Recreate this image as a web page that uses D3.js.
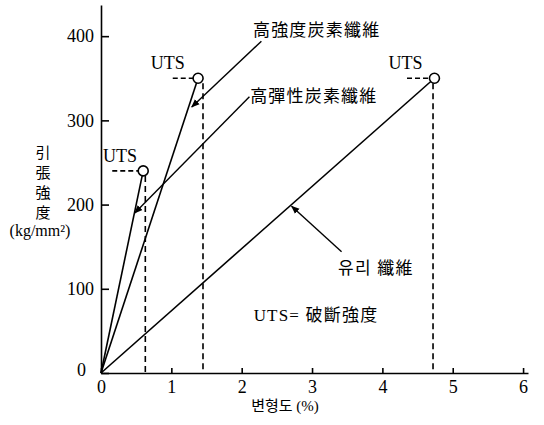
<!DOCTYPE html>
<html>
<head>
<meta charset="utf-8">
<script src="https://cdn.jsdelivr.net/npm/d3@7"></script>
<style>
  body { margin: 0; background: #fff; }
  .serif { font-family: "Liberation Serif", "DejaVu Serif", serif; }
  .mix { font-family: "Liberation Serif", "Noto Sans CJK KR", "Noto Sans CJK TC", serif; }
  .cjk { font-family: "Noto Sans CJK KR", "Noto Sans CJK TC", sans-serif; }
</style>
</head>
<body>
<div id="chart"><svg></svg></div>
<script>
// fibers: strain (%) at break and UTS (kg/mm2)
const fibers = ["高弾性", "高強度", "유리"];
const utsStrain = [0.6, 1.38, 4.74];
const utsStress = [240, 350, 350];
// dashed guides
const dropStrain = [0.63, 1.45, 4.72];
const dashFrom = [0.16, 1.02, 4.35];

const xTicks = [0, 1, 2, 3, 4, 5, 6];
const yTicks = [0, 100, 200, 300, 400];

// labels: [text, strain, stress]
const labelText = ["高強度炭素纖維", "高彈性炭素纖維", "유리 纖維", "UTS= 破斷強度"];
const labelX = [2.16, 2.12, 3.37, 2.17];
const labelY = [400, 322, 117, 62];
const utsLabelX = [0.27, 0.95, 4.33];
const utsLabelY = [250, 361, 361];

// leaders [strain, stress]
const leaderFrom = [[2.28, 394], [2.11, 328], [3.42, 144]];
const leaderTo = [[1.29, 316], [0.48, 190], [2.71, 198]];

const W = 544, H = 425;
const svg = d3.select("#chart svg").attr("width", W).attr("height", H);

const x = d3.scaleLinear().domain([0, 6.07]).range([101, 528]);
const y = d3.scaleLinear().domain([0, 437]).range([373, 5]);

svg.append("defs").append("marker")
  .attr("id", "arr").attr("viewBox", "0 0 10 10")
  .attr("refX", 9).attr("refY", 5)
  .attr("markerWidth", 6).attr("markerHeight", 6)
  .attr("orient", "auto")
  .append("path").attr("d", "M0,1 L10,5 L0,9 Z").attr("fill", "#000");

// axes
const xAxis = d3.axisBottom(x).tickValues(xTicks).tickFormat(d3.format("d"))
  .tickSizeInner(-5).tickSizeOuter(0).tickPadding(7);
const yAxis = d3.axisLeft(y).tickValues(yTicks).tickFormat(d3.format("d"))
  .tickSizeInner(-8).tickSizeOuter(0).tickPadding(7);

const gx = svg.append("g").attr("transform", `translate(0,${y(0)})`).call(xAxis);
const gy = svg.append("g").attr("transform", `translate(${x(0)},0)`).call(yAxis);
[gx, gy].forEach(g => {
  g.attr("font-family", null).attr("font-size", null);
  g.selectAll("path, line").attr("stroke", "#000").attr("stroke-width", 1.6);
  g.selectAll("text").attr("class", "serif").attr("font-size", 18).attr("fill", "#000");
});
gy.selectAll(".tick").filter(d => d === 0).select("text").attr("dx", -8).attr("dy", "0.15em");

// fiber lines
svg.selectAll(".fiber").data(fibers).join("line")
  .attr("class", "fiber")
  .attr("x1", x(0)).attr("y1", y(0))
  .attr("x2", (d, i) => x(utsStrain[i])).attr("y2", (d, i) => y(utsStress[i]))
  .attr("stroke", "#000").attr("stroke-width", 1.6);

// dashed drops and horizontal guides
svg.selectAll(".drop").data(fibers).join("line")
  .attr("x1", (d, i) => x(dropStrain[i])).attr("x2", (d, i) => x(dropStrain[i]))
  .attr("y1", (d, i) => y(utsStress[i]) + 5).attr("y2", y(0))
  .attr("stroke", "#000").attr("stroke-width", 1.6).attr("stroke-dasharray", "6,4");

svg.selectAll(".hdash").data(fibers).join("line")
  .attr("x1", (d, i) => x(dashFrom[i])).attr("x2", (d, i) => x(utsStrain[i]) - 5)
  .attr("y1", (d, i) => y(utsStress[i])).attr("y2", (d, i) => y(utsStress[i]))
  .attr("stroke", "#000").attr("stroke-width", 1.6).attr("stroke-dasharray", "5,3");

svg.selectAll(".uts").data(fibers).join("circle")
  .attr("cx", (d, i) => x(utsStrain[i])).attr("cy", (d, i) => y(utsStress[i]))
  .attr("r", 5).attr("fill", "#fff").attr("stroke", "#000").attr("stroke-width", 1.6);

svg.selectAll(".utslab").data(fibers).join("text")
  .attr("class", "serif").attr("font-size", 18).attr("text-anchor", "middle")
  .attr("x", (d, i) => x(utsLabelX[i])).attr("y", (d, i) => y(utsLabelY[i]))
  .text("UTS");

// leaders
svg.selectAll(".leader").data(leaderFrom).join("line")
  .attr("x1", d => x(d[0])).attr("y1", d => y(d[1]))
  .attr("x2", (d, i) => x(leaderTo[i][0])).attr("y2", (d, i) => y(leaderTo[i][1]))
  .attr("stroke", "#000").attr("stroke-width", 1.4).attr("marker-end", "url(#arr)");

svg.selectAll(".lab").data(labelText).join("text")
  .attr("class", "mix").attr("font-size", 17).attr("letter-spacing", 1.2)
  .attr("x", (d, i) => x(labelX[i])).attr("y", (d, i) => y(labelY[i]))
  .text(d => d);

// axis titles
const yTitle = ["引", "張", "強", "度"];
svg.selectAll(".ytitle").data(yTitle).join("text")
  .attr("class", "cjk").attr("font-size", 15).attr("text-anchor", "middle")
  .attr("x", 43).attr("y", (d, i) => 158 + i * 20)
  .text(d => d);
svg.append("text").attr("class", "serif").attr("font-size", 16)
  .attr("x", 40).attr("y", 236).attr("text-anchor", "middle")
  .text("(kg/mm²)");
svg.append("text").attr("class", "mix").attr("font-size", 15)
  .attr("x", 285).attr("y", 411).attr("text-anchor", "middle")
  .text("변형도 (%)");
</script>
</body>
</html>
